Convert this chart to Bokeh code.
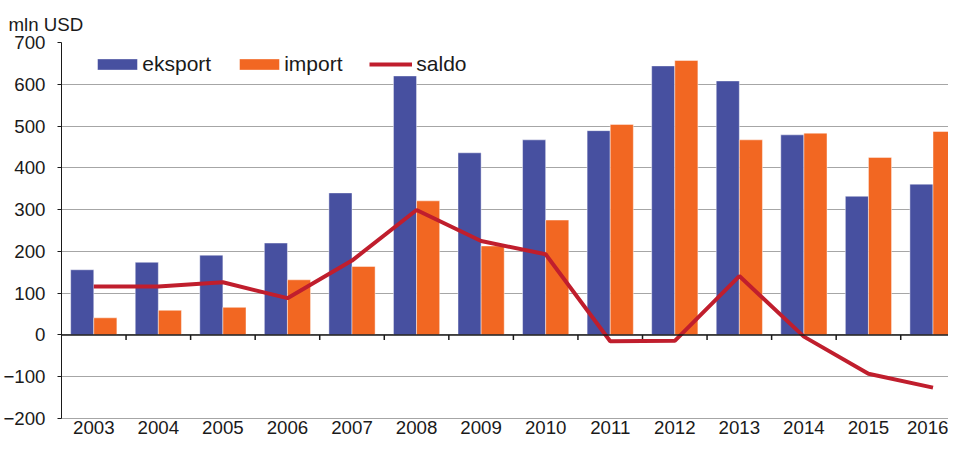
from bokeh.plotting import figure
from bokeh.models import (Range1d, FixedTicker, Span, Legend, LegendItem, ColumnDataSource)
from bokeh.transform import dodge
from bokeh.embed import file_html
from bokeh.resources import INLINE

years = ["2003", "2004", "2005", "2006", "2007", "2008", "2009",
         "2010", "2011", "2012", "2013", "2014", "2015", "2016"]
eksport = [156, 174, 191, 220, 340, 620, 436, 467, 489, 644, 608, 479, 332, 361]
import_ = [41, 59, 66, 132, 164, 321, 213, 275, 504, 657, 467, 483, 425, 487]
saldo = [116, 116, 126, 88, 178, 299, 225, 193, -15, -14, 141, -4, -93, -126]
y_ticks = [-200, -100, 0, 100, 200, 300, 400, 500, 600, 700]

BLUE = "#4750A0"
ORANGE = "#F26722"
RED = "#C01E2D"
GRID = "#A6A6A6"
DARK = "#1a1a1a"
FONT = "Liberation Sans"

xs = list(range(len(years)))
src = ColumnDataSource(dict(x=xs, eksport=eksport, imp=import_, saldo=saldo))

p = figure(width=948, height=436, output_backend="svg", toolbar_location=None,
           x_range=Range1d(-0.5, 13.24), y_range=Range1d(-200, 700),
           min_border_left=55, min_border_right=0, min_border_top=42,
           min_border_bottom=0, title="mln USD")
p.outline_line_color = None
p.background_fill_color = "white"
p.border_fill_color = "white"

p.title.align = "left"
p.title.offset = -53
p.title.text_font = FONT
p.title.text_font_size = "18.7px"
p.title.text_font_style = "normal"
p.title.text_color = DARK
p.title.standoff = 15

# x axis (labels at bottom)
xa = p.xaxis[0]
xa.ticker = FixedTicker(ticks=xs)
xa.major_label_overrides = {i: y for i, y in enumerate(years)}
xa.major_tick_out = 0
xa.major_tick_in = 0
xa.minor_tick_out = 0
xa.minor_tick_in = 0
xa.axis_line_color = GRID
xa.major_label_standoff = 2
xa.major_label_text_font = FONT
xa.major_label_text_font_size = "18.7px"
xa.major_label_text_color = DARK
p.xgrid.visible = False

# y axis
ya = p.yaxis[0]
ya.ticker = FixedTicker(ticks=y_ticks)
ya.major_tick_out = 4
ya.major_tick_in = 0
ya.minor_tick_out = 0
ya.minor_tick_in = 0
ya.axis_line_color = DARK
ya.major_tick_line_color = DARK
ya.major_label_standoff = 12
ya.major_label_text_font = FONT
ya.major_label_text_font_size = "18.7px"
ya.major_label_text_color = DARK
p.ygrid.ticker = FixedTicker(ticks=y_ticks)
p.ygrid.grid_line_color = GRID
p.ygrid.grid_line_width = 1

r1 = p.vbar(x=dodge("x", -0.179), top="eksport", bottom=0, width=0.358, source=src,
            fill_color=BLUE, line_color="white", line_alpha=0.45, line_width=1)
r2 = p.vbar(x=dodge("x", 0.179), top="imp", bottom=0, width=0.358, source=src,
            fill_color=ORANGE, line_color="white", line_alpha=0.45, line_width=1)

# zero axis line with ticks between categories
p.add_layout(Span(location=0, dimension="width", line_color=DARK, line_width=1.5))
bounds = [i + 0.5 for i in xs[:-1]]
p.segment(x0=bounds, y0=[0] * len(bounds), x1=bounds, y1=[-12] * len(bounds),
          line_color=DARK, line_width=1.5)

r3 = p.line("x", "saldo", source=src, line_color=RED, line_width=4)

common = dict(orientation="horizontal", padding=0, margin=0, border_line_color=None,
              background_fill_alpha=0, label_text_font=FONT,
              label_text_font_size="21px", label_text_color=DARK)
legend1 = Legend(items=[LegendItem(label="eksport", renderers=[r1]),
                        LegendItem(label="import", renderers=[r2])],
                 location=(31.3, 342), glyph_width=50, glyph_height=14,
                 label_standoff=0, spacing=23, **common)
legend2 = Legend(items=[LegendItem(label="saldo", renderers=[r3])],
                 location=(308.3, 342), glyph_width=43, glyph_height=14,
                 label_standoff=4, **common)
p.add_layout(legend1)
p.add_layout(legend2)

open("out.html", "w").write(file_html(p, INLINE))
